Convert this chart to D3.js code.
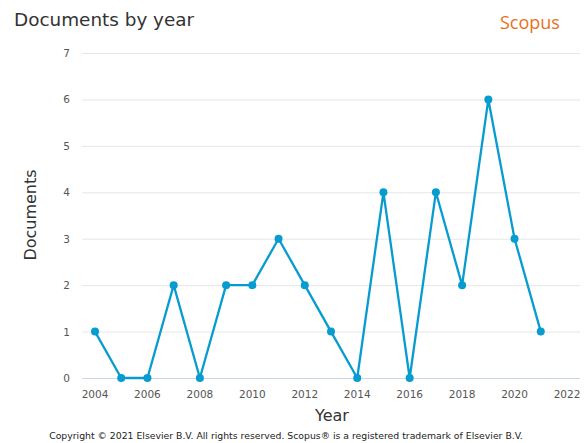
<!DOCTYPE html>
<html><head><meta charset="utf-8">
<script src="https://cdn.jsdelivr.net/npm/d3@7"></script>
<style>body{margin:0;background:#fff}svg{display:block}</style>
</head><body>
<script>
const years = [2004,2005,2006,2007,2008,2009,2010,2011,2012,2013,2014,2015,2016,2017,2018,2019,2020,2021];
const documents = [1,0,0,2,0,2,2,3,2,1,0,4,0,4,2,6,3,1];
const xTicks = [2004,2006,2008,2010,2012,2014,2016,2018,2020,2022];
const yTicks = [0,1,2,3,4,5,6,7];

const W=585,H=443;
const svg=d3.select("body").append("svg").attr("width",W).attr("height",H);
const font="DejaVu Sans, sans-serif";
const x=d3.scaleLinear().domain([2004,2022]).range([95,567]);
const y=d3.scaleLinear().domain([0,7]).range([378,53]);

svg.append("text").attr("x",14).attr("y",26).attr("font-family",font).attr("font-size",18.4).attr("fill","#333").text("Documents by year");
svg.append("text").attr("x",500).attr("y",29).attr("font-family","Open Sans, sans-serif").attr("font-size",18).attr("fill","#e9711c").text("Scopus");

// grid
svg.append("g").selectAll("line").data(yTicks).join("line")
 .attr("x1",82).attr("x2",580).attr("y1",d=>y(d)+0.5).attr("y2",d=>y(d)+0.5)
 .attr("stroke",d=>d===0?"#ccd6eb":"#e6e6e6").attr("stroke-width",1);
svg.append("g").selectAll("text").data(yTicks).join("text")
 .attr("x",70).attr("y",d=>y(d)+4).attr("text-anchor","end").attr("font-family",font).attr("font-size",10.5).attr("fill","#555").text(d=>d);
svg.append("g").selectAll("text").data(xTicks).join("text")
 .attr("x",d=>x(d)).attr("y",398).attr("text-anchor","middle").attr("font-family",font).attr("font-size",10.5).attr("fill","#555").text(d=>d);

svg.append("text").attr("x",332).attr("y",421).attr("text-anchor","middle").attr("font-family",font).attr("font-size",16).attr("fill","#333").text("Year");
svg.append("text").attr("transform","translate(36,215) rotate(-90)").attr("text-anchor","middle").attr("font-family",font).attr("font-size",16).attr("fill","#333").text("Documents");

const line=d3.line().x((d,i)=>x(years[i])).y(d=>y(d));
svg.append("path").datum(documents).attr("d",line).attr("fill","none").attr("stroke","#079ccf").attr("stroke-width",2.3).attr("stroke-linejoin","round");
svg.append("g").selectAll("circle").data(documents).join("circle")
 .attr("cx",(d,i)=>x(years[i])).attr("cy",d=>y(d)).attr("r",4).attr("fill","#079ccf");

svg.append("text").attr("x",286).attr("y",439).attr("text-anchor","middle").attr("font-family",font).attr("font-size",9.3).attr("fill","#222").text("Copyright © 2021 Elsevier B.V. All rights reserved. Scopus® is a registered trademark of Elsevier B.V.");
</script>
</body></html>
